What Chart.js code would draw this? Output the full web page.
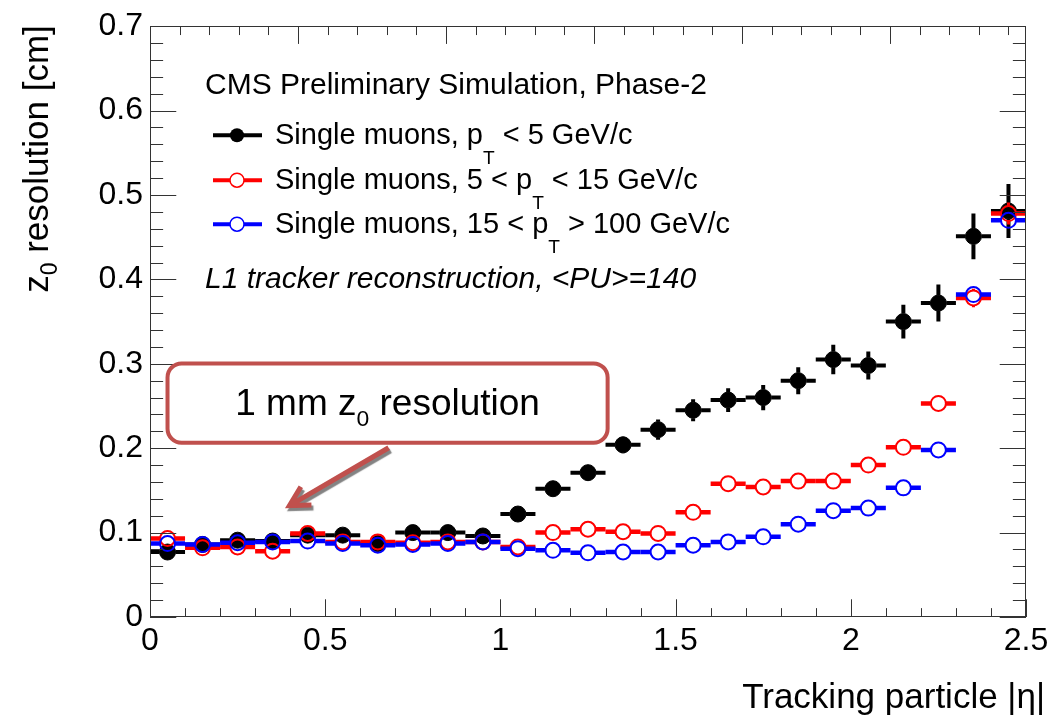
<!DOCTYPE html>
<html lang="en">
<head>
<meta charset="utf-8">
<title>L1 track z0 resolution vs |eta|</title>
<script src="https://cdn.jsdelivr.net/npm/chart.js@4.4.1/dist/chart.umd.min.js"></script>
<style>
  html, body { margin: 0; padding: 0; background: #ffffff; }
  #box { width: 1055px; height: 716px; }
</style>
</head>
<body>
<div id="box"><canvas id="chart" width="1055" height="716"></canvas></div>
<script>
// |eta| bin centres, bins are 0.1 wide
const etaBins = [0.05, 0.15, 0.25, 0.35, 0.45, 0.55, 0.65, 0.75, 0.85, 0.95,
                 1.05, 1.15, 1.25, 1.35, 1.45, 1.55, 1.65, 1.75, 1.85, 1.95,
                 2.05, 2.15, 2.25, 2.35, 2.45];
const etaHalfWidth = 0.05;

// Single muons, pT < 5 GeV/c
const resLowPt = [0.077, 0.086, 0.091, 0.090, 0.097, 0.097, 0.087, 0.100, 0.100, 0.096,
                  0.122, 0.152, 0.171, 0.204, 0.222, 0.245, 0.257, 0.260, 0.280, 0.305,
                  0.298, 0.350, 0.372, 0.451, 0.481];
const errLowPt = [0.005, 0.005, 0.005, 0.005, 0.005, 0.005, 0.005, 0.005, 0.005, 0.005,
                  0.006, 0.007, 0.008, 0.010, 0.012, 0.013, 0.014, 0.015, 0.016, 0.0175,
                  0.0167, 0.020, 0.022, 0.027, 0.032];

// Single muons, 5 < pT < 15 GeV/c
const resMidPt = [0.093, 0.082, 0.083, 0.078, 0.099, 0.089, 0.089, 0.088, 0.089, 0.089,
                  0.083, 0.100, 0.104, 0.101, 0.099, 0.124, 0.158, 0.154, 0.161, 0.161,
                  0.180, 0.201, 0.253, 0.378, 0.478];
const errMidPt = [0.002, 0.002, 0.002, 0.002, 0.002, 0.002, 0.002, 0.002, 0.002, 0.002,
                  0.002, 0.002, 0.002, 0.002, 0.002, 0.002, 0.003, 0.003, 0.003, 0.003,
                  0.004, 0.004, 0.005, 0.011, 0.013];

// Single muons, 15 < pT < 100 GeV/c
const resHighPt = [0.087, 0.086, 0.088, 0.089, 0.090, 0.087, 0.085, 0.086, 0.087, 0.089,
                   0.081, 0.079, 0.076, 0.077, 0.077, 0.085, 0.089, 0.095, 0.110, 0.126,
                   0.129, 0.153, 0.198, 0.382, 0.470];
const errHighPt = [0.002, 0.002, 0.002, 0.002, 0.002, 0.002, 0.002, 0.002, 0.002, 0.002,
                   0.002, 0.002, 0.002, 0.002, 0.002, 0.002, 0.002, 0.002, 0.003, 0.003,
                   0.003, 0.003, 0.004, 0.005, 0.006];

// axis ticks
const xTickValues = [0, 0.5, 1, 1.5, 2, 2.5];
const yTickValues = [0, 0.1, 0.2, 0.3, 0.4, 0.5, 0.6, 0.7];
const xMinorDivisions = 5;
const yMinorDivisions = 5;
const topTickStep = 0.4224;

// texts
const legendHeader = 'CMS Preliminary Simulation, Phase-2';
const legendLabels = [
  [{t: 'Single muons, p'}, {t: 'T', sub: true}, {t: ' < 5 GeV/c'}],
  [{t: 'Single muons, 5 < p'}, {t: 'T', sub: true}, {t: ' < 15 GeV/c'}],
  [{t: 'Single muons, 15 < p'}, {t: 'T', sub: true}, {t: ' > 100 GeV/c'}]
];
const legendFooter = 'L1 tracker reconstruction, <PU>=140';
const xTitle = 'Tracking particle |\u03b7|';
const yTitle = [{t: 'z'}, {t: '0', sub: true}, {t: ' resolution [cm]'}];
const calloutText = [{t: '1 mm z'}, {t: '0', sub: true}, {t: ' resolution'}];
// callout box and arrow, in (|eta|, cm) coordinates
const calloutBox = {x0: 0.05, x1: 1.306, y0: 0.2065, y1: 0.3005};
const calloutArrow = {x0: 0.681, y0: 0.2005, x1: 0.398, y1: 0.132};

const FONT = '"Liberation Sans", Arial, Helvetica, sans-serif';
const series = [
  {values: resLowPt, errors: errLowPt, color: '#000000', filled: true, order: 3},
  {values: resMidPt, errors: errMidPt, color: '#ff0000', filled: false, order: 2},
  {values: resHighPt, errors: errHighPt, color: '#0000ff', filled: false, order: 1}
];
const filledRadius = 8;
const openRadius = 7.5;

function richText(ctx, x, y, parts, size, opt) {
  opt = opt || {};
  const style = opt.italic ? 'italic ' : '';
  let cx = x;
  for (const p of parts) {
    const fs = p.sub ? size * (opt.subScale || 0.66) : size;
    ctx.font = style + fs + 'px ' + FONT;
    ctx.fillText(p.t, cx, y + (p.sub ? size * (opt.subDrop || 0.3) : 0));
    cx += ctx.measureText(p.t).width;
  }
  return cx - x;
}
function richWidth(ctx, parts, size, opt) {
  opt = opt || {};
  let w = 0;
  for (const p of parts) {
    const fs = p.sub ? size * (opt.subScale || 0.66) : size;
    ctx.font = (opt.italic ? 'italic ' : '') + fs + 'px ' + FONT;
    w += ctx.measureText(p.t).width;
  }
  return w;
}

function drawBins(chart, s) {
  const ctx = chart.ctx;
  const xs = chart.scales.x, ys = chart.scales.y;
  ctx.save();
  ctx.strokeStyle = s.color;
  ctx.lineCap = 'butt';
  const r = s.filled ? filledRadius : openRadius;
  for (let k = 0; k < etaBins.length; k++) {
    const px = xs.getPixelForValue(etaBins[k]);
    const pl = xs.getPixelForValue(etaBins[k] - etaHalfWidth);
    const pr = xs.getPixelForValue(etaBins[k] + etaHalfWidth);
    const py = ys.getPixelForValue(s.values[k]);
    const pt = ys.getPixelForValue(s.values[k] + s.errors[k]);
    const pb = ys.getPixelForValue(s.values[k] - s.errors[k]);
    ctx.lineWidth = s.filled ? 4 : 4.5;
    ctx.beginPath();
    ctx.moveTo(pl, py); ctx.lineTo(px - r, py);
    ctx.moveTo(px + r, py); ctx.lineTo(pr, py);
    ctx.stroke();
    if (py - pt > r) {
      ctx.lineWidth = s.filled ? 4 : 3;
      ctx.beginPath();
      ctx.moveTo(px, pt); ctx.lineTo(px, py - r);
      ctx.moveTo(px, py + r); ctx.lineTo(px, pb);
      ctx.stroke();
    }
  }
  ctx.restore();
}

function drawFrame(chart) {
  const ctx = chart.ctx;
  const a = chart.chartArea;
  const xs = chart.scales.x, ys = chart.scales.y;
  ctx.save();
  ctx.strokeStyle = '#333333';
  ctx.lineWidth = 1;
  ctx.strokeRect(Math.round(a.left) + 0.5, Math.round(a.top) + 0.5,
                 Math.round(a.right - a.left) - 1, Math.round(a.bottom - a.top) - 1);
  ctx.beginPath();
  const W = a.right - a.left, H = a.bottom - a.top;
  const yMaj = 0.03 * W, xMaj = 0.03 * H;
  // y axis, left and right
  for (let i = 0; i < yTickValues.length; i++) {
    for (let m = 0; m < yMinorDivisions; m++) {
      if (i === yTickValues.length - 1 && m > 0) break;
      const v = yTickValues[i] + m * (yTickValues[1] - yTickValues[0]) / yMinorDivisions;
      const p = Math.round(ys.getPixelForValue(v)) + 0.5;
      const len = m === 0 ? yMaj : yMaj / 2;
      ctx.moveTo(a.left, p); ctx.lineTo(a.left + len, p);
      ctx.moveTo(a.right, p); ctx.lineTo(a.right - len, p);
    }
  }
  // x axis, bottom
  for (let i = 0; i < xTickValues.length; i++) {
    for (let m = 0; m < xMinorDivisions; m++) {
      if (i === xTickValues.length - 1 && m > 0) break;
      const v = xTickValues[i] + m * (xTickValues[1] - xTickValues[0]) / xMinorDivisions;
      const p = Math.round(xs.getPixelForValue(v)) + 0.5;
      const len = m === 0 ? xMaj : xMaj / 2;
      ctx.moveTo(p, a.bottom); ctx.lineTo(p, a.bottom - len);
    }
  }
  // top axis
  for (let k = 0; ; k++) {
    const v = k * topTickStep / xMinorDivisions;
    if (v > xs.max) break;
    const p = Math.round(xs.getPixelForValue(v)) + 0.5;
    const len = k % xMinorDivisions === 0 ? xMaj : xMaj / 2;
    ctx.moveTo(p, a.top); ctx.lineTo(p, a.top + len);
  }
  ctx.stroke();
  ctx.restore();
}

function drawLegend(chart) {
  const ctx = chart.ctx;
  const a = chart.chartArea;
  ctx.save();
  ctx.fillStyle = '#000';
  ctx.textBaseline = 'alphabetic';
  ctx.textAlign = 'left';
  ctx.font = '30px ' + FONT;
  ctx.fillText(legendHeader, a.left + 55, a.top + 68);
  const rowY = [a.top + 109, a.top + 154, a.top + 198];
  for (let i = 0; i < series.length; i++) {
    const s = series[i];
    const y = rowY[i];
    ctx.strokeStyle = s.color;
    ctx.lineWidth = 4;
    ctx.beginPath();
    ctx.moveTo(a.left + 63, y); ctx.lineTo(a.left + 112, y);
    ctx.stroke();
    ctx.beginPath();
    ctx.arc(a.left + 87, y, 7, 0, Math.PI * 2);
    if (s.filled) {
      ctx.fillStyle = s.color; ctx.fill();
    } else {
      ctx.fillStyle = '#fff'; ctx.fill();
      ctx.lineWidth = 1.5; ctx.stroke();
    }
    ctx.fillStyle = '#000';
    richText(ctx, a.left + 125, y + 9, legendLabels[i], 29, {subScale: 0.66, subDrop: 0.68});
  }
  ctx.font = 'italic 30px ' + FONT;
  ctx.fillText(legendFooter, a.left + 55, a.top + 262);
  ctx.restore();
}

function drawCallout(chart) {
  const ctx = chart.ctx;
  const xs = chart.scales.x, ys = chart.scales.y;
  const bx0 = xs.getPixelForValue(calloutBox.x0), bx1 = xs.getPixelForValue(calloutBox.x1);
  const by0 = ys.getPixelForValue(calloutBox.y1), by1 = ys.getPixelForValue(calloutBox.y0);
  ctx.save();
  // arrow with soft grey shadow
  const ax0 = xs.getPixelForValue(calloutArrow.x0), ay0 = ys.getPixelForValue(calloutArrow.y0);
  const ax1 = xs.getPixelForValue(calloutArrow.x1), ay1 = ys.getPixelForValue(calloutArrow.y1);
  const ang = Math.atan2(ay0 - ay1, ax0 - ax1);
  const head = 22, spread = 0.5;
  ctx.shadowColor = 'rgba(90,90,90,0.75)';
  ctx.shadowOffsetX = 2; ctx.shadowOffsetY = 3; ctx.shadowBlur = 1;
  ctx.strokeStyle = '#c0504d';
  ctx.lineWidth = 5;
  ctx.lineCap = 'butt';
  ctx.lineJoin = 'miter';
  ctx.beginPath();
  ctx.moveTo(ax0, ay0); ctx.lineTo(ax1 + Math.cos(ang) * 3, ay1 + Math.sin(ang) * 3);
  ctx.moveTo(ax1 + Math.cos(ang + spread) * head, ay1 + Math.sin(ang + spread) * head);
  ctx.lineTo(ax1, ay1);
  ctx.lineTo(ax1 + Math.cos(ang - spread) * head, ay1 + Math.sin(ang - spread) * head);
  ctx.stroke();
  ctx.shadowColor = 'rgba(0,0,0,0)';
  // rounded box
  ctx.beginPath();
  ctx.roundRect(bx0, by0, bx1 - bx0, by1 - by0, 14);
  ctx.fillStyle = '#ffffff';
  ctx.fill();
  ctx.lineWidth = 4;
  ctx.strokeStyle = '#c0504d';
  ctx.stroke();
  // label
  ctx.fillStyle = '#000';
  ctx.textBaseline = 'alphabetic';
  ctx.textAlign = 'left';
  const opt = {subScale: 0.62, subDrop: 0.29};
  const w = richWidth(ctx, calloutText, 37, opt);
  richText(ctx, (bx0 + bx1) / 2 - w / 2, (by0 + by1) / 2 + 12, calloutText, 37, opt);
  ctx.restore();
}

function drawTitles(chart) {
  const ctx = chart.ctx;
  const a = chart.chartArea;
  ctx.save();
  ctx.fillStyle = '#000';
  ctx.textBaseline = 'alphabetic';
  ctx.textAlign = 'right';
  ctx.font = '35px ' + FONT;
  ctx.fillText(xTitle, a.right + 19, 708);
  // vertical title, right-aligned to the top of the axis
  const opt = {subScale: 0.66, subDrop: 0.25};
  const w = richWidth(ctx, yTitle, 35, opt);
  ctx.translate(48, a.top - 1);
  ctx.rotate(-Math.PI / 2);
  ctx.textAlign = 'left';
  richText(ctx, -w, 0, yTitle, 35, opt);
  ctx.restore();
}

const decorations = {
  id: 'decorations',
  beforeDatasetDraw(chart, args) {
    drawBins(chart, series[args.index]);
  },
  afterDatasetsDraw(chart) {
    drawFrame(chart);
    drawLegend(chart);
    drawCallout(chart);
    drawTitles(chart);
  }
};

const datasets = series.map(s => ({
  data: etaBins.map((x, k) => ({x: x, y: s.values[k]})),
  showLine: false,
  order: s.order,
  pointRadius: s.filled ? filledRadius : openRadius,
  pointHoverRadius: s.filled ? filledRadius : openRadius,
  pointStyle: 'circle',
  pointBackgroundColor: s.filled ? s.color : 'rgba(0,0,0,0)',
  pointBorderColor: s.color,
  pointBorderWidth: s.filled ? 1 : 2,
  clip: false
}));

new Chart(document.getElementById('chart'), {
  type: 'scatter',
  data: {datasets: datasets},
  options: {
    responsive: false,
    devicePixelRatio: 1,
    animation: false,
    events: [],
    layout: {padding: {top: 24, right: 29, left: 0, bottom: 0}},
    plugins: {legend: {display: false}, tooltip: {enabled: false}},
    scales: {
      x: {
        type: 'linear', min: 0, max: 2.5,
        afterBuildTicks(scale) { scale.ticks = xTickValues.map(v => ({value: v})); },
        afterFit(scale) { scale.height = 99; },
        grid: {display: false, drawTicks: false},
        border: {display: false},
        ticks: {
          color: '#000', padding: 5, maxRotation: 0, autoSkip: false,
          font: {family: FONT, size: 32},
          callback: v => String(v)
        }
      },
      y: {
        type: 'linear', min: 0, max: 0.7,
        afterBuildTicks(scale) { scale.ticks = yTickValues.map(v => ({value: v})); },
        afterFit(scale) { scale.width = 150; },
        grid: {display: false, drawTicks: false},
        border: {display: false},
        ticks: {
          color: '#000', padding: 7, autoSkip: false,
          font: {family: FONT, size: 32},
          callback: v => String(v)
        }
      }
    }
  },
  plugins: [decorations]
});
</script>
</body>
</html>
